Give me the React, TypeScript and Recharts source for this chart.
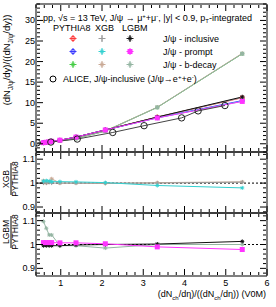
import React from "react";
import { LineChart, Line, XAxis, YAxis, ReferenceLine } from "recharts";

const FONT = "'Liberation Sans', Arial, Helvetica, sans-serif";
const W = 276;
const H = 307;
const LEFT = 36;
const RIGHT = 267;

// multiplicity classes (V0M), shared by all model curves
const multX = [0.58, 0.65, 0.72, 0.78, 0.98, 1.37, 2.08, 3.34, 5.4];

// top panel: self-normalised J/psi yields
const pythiaIncl = [0.27, 0.37, 0.47, 0.6, 0.86, 1.62, 3.35, 6.5, 11.2];
const pythiaPrompt = [0.27, 0.37, 0.47, 0.6, 0.86, 1.62, 3.35, 6.35, 10.5];
const pythiaBdecay = [0.17, 0.25, 0.34, 0.44, 0.7, 1.3, 3.1, 8.85, 21.9];
const xgbIncl = [0.27, 0.37, 0.47, 0.6, 0.86, 1.62, 3.35, 6.5, 11.25];
const xgbPrompt = [0.27, 0.37, 0.47, 0.6, 0.86, 1.63, 3.35, 6.3, 10.35];
const xgbBdecay = [0.17, 0.25, 0.35, 0.44, 0.7, 1.3, 3.1, 8.9, 22.0];
const lgbmIncl = [0.27, 0.37, 0.47, 0.6, 0.86, 1.62, 3.36, 6.5, 11.4];
const lgbmPrompt = [0.27, 0.37, 0.47, 0.6, 0.87, 1.63, 3.36, 6.28, 10.3];
const lgbmBdecay = [0.19, 0.27, 0.35, 0.46, 0.7, 1.29, 3.05, 8.85, 21.9];

// ALICE measurement
const aliceX = [0.43, 0.76, 1.4, 2.26, 3.02, 3.93, 4.33, 4.98];
const aliceY = [0.25, 0.42, 1.15, 2.75, 4.4, 6.3, 8.0, 9.3];

// middle panel: XGB / PYTHIA8
const xgbInclRatio = [1.0, 1.0, 1.003, 1.0, 1.0, 1.0, 1.0, 1.0, 1.004];
const xgbPromptRatio = [1.008, 1.01, 1.008, 1.006, 1.006, 1.005, 1.002, 0.99, 0.98];
const xgbBdecayRatio = [1.01, 1.0, 1.005, 1.018, 1.0, 1.0, 0.998, 1.002, 1.005];

// bottom panel: LGBM / PYTHIA8
const lgbmInclRatio = [0.995, 0.995, 0.995, 0.995, 0.995, 0.998, 1.0, 1.002, 1.013];
const lgbmPromptRatio = [1.008, 1.008, 1.008, 1.008, 1.007, 1.007, 1.003, 0.99, 0.979];
const lgbmBdecayRatio = [1.097, 1.068, 1.04, 1.04, 0.995, 0.995, 0.985, 1.0, 1.0];

// axis ticks
const xMajor = [1, 2, 3, 4, 5, 6];
const topYMajor = [0, 5, 10, 15, 20, 25, 30];
const ratioYMajor = [0.9, 1, 1.1];

function steps(from: number, to: number, step: number) {
  const out: number[] = [];
  for (let v = from; v <= to + 1e-9; v += step) out.push(Math.round(v * 1000) / 1000);
  return out;
}
const xTicks = steps(0.4, 6, 0.2);
const topYTicks = steps(-2, 34, 1);
const ratioYTicks = steps(0.88, 1.12, 0.02);

const topData = multX.map((x, i) => ({
  x,
  pyI: pythiaIncl[i],
  pyP: pythiaPrompt[i],
  pyB: pythiaBdecay[i],
  xgI: xgbIncl[i],
  xgP: xgbPrompt[i],
  xgB: xgbBdecay[i],
  lgI: lgbmIncl[i],
  lgP: lgbmPrompt[i],
  lgB: lgbmBdecay[i],
}));
const aliceData = aliceX.map((x, i) => ({ x, alice: aliceY[i] }));
const midData = multX.map((x, i) => ({
  x,
  inc: xgbInclRatio[i],
  pro: xgbPromptRatio[i],
  bd: xgbBdecayRatio[i],
}));
const botData = multX.map((x, i) => ({
  x,
  inc: lgbmInclRatio[i],
  pro: lgbmPromptRatio[i],
  bd: lgbmBdecayRatio[i],
}));

const C = {
  red: "#ff3b3b",
  blue: "#3b3bff",
  green: "#44cc44",
  grey: "#9a9a9a",
  cyan: "#33d0d0",
  tan: "#c9a995",
  black: "#111111",
  magenta: "#ff33ff",
  sage: "#94b5a2",
};

const isMajor = (v: number, majors: number[]) => majors.some((m) => Math.abs(m - v) < 1e-6);

// markers
const square = (color: string, s = 2.5) => (p: any) =>
  p.cx == null ? null : (
    <rect key={`${p.dataKey}-${p.index}`} x={p.cx - s} y={p.cy - s} width={2 * s} height={2 * s} fill={color} />
  );
const openCircle = (color: string, r = 3) => (p: any) =>
  p.cx == null ? null : (
    <circle key={`${p.dataKey}-${p.index}`} cx={p.cx} cy={p.cy} r={r} fill="none" stroke={color} strokeWidth={1} />
  );
const plus = (color: string, s = 2.5) => (p: any) =>
  p.cx == null ? null : (
    <g key={`${p.dataKey}-${p.index}`} stroke={color} strokeWidth={1}>
      <line x1={p.cx - s} x2={p.cx + s} y1={p.cy} y2={p.cy} />
      <line x1={p.cx} x2={p.cx} y1={p.cy - s} y2={p.cy + s} />
    </g>
  );
const star = (color: string, s = 2.2) => (p: any) =>
  p.cx == null ? null : (
    <g key={`${p.dataKey}-${p.index}`} stroke={color} strokeWidth={1}>
      <line x1={p.cx - s} x2={p.cx + s} y1={p.cy} y2={p.cy} />
      <line x1={p.cx} x2={p.cx} y1={p.cy - s} y2={p.cy + s} />
      <line x1={p.cx - s * 0.7} x2={p.cx + s * 0.7} y1={p.cy - s * 0.7} y2={p.cy + s * 0.7} />
      <line x1={p.cx - s * 0.7} x2={p.cx + s * 0.7} y1={p.cy + s * 0.7} y2={p.cy - s * 0.7} />
    </g>
  );

// inward ROOT-style ticks
function xTick(side: "bottom" | "top", labels: boolean) {
  return (p: any) => {
    const v = p.payload.value;
    const major = isMajor(v, xMajor);
    const len = major ? 6 : 3;
    const dir = side === "bottom" ? -1 : 1;
    const y0 = side === "bottom" ? p.y - 1 : p.y + 1;
    return (
      <g key={`x${side}-${v}`}>
        <line x1={p.x} x2={p.x} y1={y0} y2={y0 + dir * len} stroke="#000" strokeWidth={1} />
        {labels && major && (
          <text x={p.x} y={y0 + 11} textAnchor="middle" fontSize={9} fontFamily={FONT} fill="#000">
            {v}
          </text>
        )}
      </g>
    );
  };
}
function yTick(side: "left" | "right", majors: number[], labels: boolean) {
  return (p: any) => {
    const v = p.payload.value;
    const major = isMajor(v, majors);
    const len = major ? 6 : 3;
    const dir = side === "left" ? 1 : -1;
    const x0 = side === "left" ? p.x + 1 : p.x - 1;
    return (
      <g key={`y${side}-${v}`}>
        <line x1={x0} x2={x0 + dir * len} y1={p.y} y2={p.y} stroke="#000" strokeWidth={1} />
        {labels && major && (
          <text x={x0 - 2} y={p.y + 3} textAnchor="end" fontSize={9} fontFamily={FONT} fill="#000">
            {v}
          </text>
        )}
      </g>
    );
  };
}

function Panel(props: {
  top: number;
  bottom: number;
  data: any[];
  yDomain: [number, number];
  yTicks: number[];
  yMajor: number[];
  xLabels: boolean;
  children: React.ReactNode;
}) {
  // axes are 1px thick, so margins are shrunk by one to keep the frame in place
  return (
    <div style={{ position: "absolute", left: 0, top: 0 }}>
      <LineChart
        width={W}
        height={H}
        data={props.data}
        margin={{ top: props.top - 1, bottom: H - props.bottom - 1, left: LEFT - 1, right: W - RIGHT - 1 }}
      >
        <XAxis
          xAxisId="b"
          dataKey="x"
          type="number"
          domain={[0.4, 6]}
          allowDataOverflow
          ticks={xTicks}
          interval={0}
          height={1}
          tickSize={0}
          tickMargin={0}
          tickLine={false}
          tick={xTick("bottom", props.xLabels)}
          axisLine={{ stroke: "#000" }}
        />
        <XAxis
          xAxisId="t"
          orientation="top"
          dataKey="x"
          type="number"
          domain={[0.4, 6]}
          allowDataOverflow
          ticks={xTicks}
          interval={0}
          height={1}
          tickSize={0}
          tickMargin={0}
          tickLine={false}
          tick={xTick("top", false)}
          axisLine={{ stroke: "#000" }}
        />
        <YAxis
          yAxisId="l"
          type="number"
          domain={props.yDomain}
          allowDataOverflow
          ticks={props.yTicks}
          interval={0}
          width={1}
          tickSize={0}
          tickMargin={0}
          tickLine={false}
          tick={yTick("left", props.yMajor, true)}
          axisLine={{ stroke: "#000" }}
        />
        <YAxis
          yAxisId="r"
          orientation="right"
          type="number"
          domain={props.yDomain}
          allowDataOverflow
          ticks={props.yTicks}
          interval={0}
          width={1}
          tickSize={0}
          tickMargin={0}
          tickLine={false}
          tick={yTick("right", props.yMajor, false)}
          axisLine={{ stroke: "#000" }}
        />
        {props.children}
      </LineChart>
    </div>
  );
}

const lineProps = {
  xAxisId: "b",
  yAxisId: "l",
  type: "linear" as const,
  strokeWidth: 1,
  isAnimationActive: false,
  activeDot: false,
};

function Legend() {
  const rows = [
    { y: 38.5, py: openCircle(C.red, 2.2), xg: plus(C.grey, 3), lg: star(C.black, 2.6), label: "J/ψ - inclusive", pc: C.red, xc: C.grey, lc: C.black },
    { y: 51.5, py: openCircle(C.blue, 2.2), xg: star(C.cyan, 2.6), lg: square(C.magenta, 2.5), label: "J/ψ - prompt", pc: C.blue, xc: C.cyan, lc: C.magenta },
    { y: 64.5, py: star(C.green, 2.6), xg: star(C.tan, 2.6), lg: star(C.sage, 2.6), label: "J/ψ - b-decay", pc: C.green, xc: C.tan, lc: C.sage },
  ];
  const bar = (cx: number, cy: number, color: string) => (
    <g stroke={color} strokeWidth={1}>
      <line x1={cx - 3.5} x2={cx + 3.5} y1={cy} y2={cy} />
      <line x1={cx} x2={cx} y1={cy - 3.5} y2={cy + 3.5} />
    </g>
  );
  return (
    <svg width={W} height={H} style={{ position: "absolute", left: 0, top: 0, pointerEvents: "none" }} fontFamily={FONT}>
      <text x={43} y={21} fontSize={9} fill="#000">
        pp, √s = 13 TeV, J/ψ → μ<tspan dy={-3} fontSize={6}>+</tspan>
        <tspan dy={3}>+μ</tspan>
        <tspan dy={-3} fontSize={6}>-</tspan>
        <tspan dy={3}>, |y| &lt; 0.9, p</tspan>
        <tspan dy={2} fontSize={6}>T</tspan>
        <tspan dy={-2}>-integrated</tspan>
      </text>
      <text x={53} y={31} fontSize={9} fill="#000">PYTHIA8</text>
      <text x={95} y={31} fontSize={9} fill="#000">XGB</text>
      <text x={122} y={31} fontSize={9} fill="#000">LGBM</text>
      {rows.map((r, i) => (
        <g key={i}>
          {bar(73, r.y, r.pc)}
          {r.py({ cx: 73, cy: r.y, index: 0, dataKey: "p" })}
          {bar(102, r.y, r.xc)}
          {r.xg({ cx: 102, cy: r.y, index: 0, dataKey: "x" })}
          {bar(130, r.y, r.lc)}
          {r.lg({ cx: 130, cy: r.y, index: 0, dataKey: "l" })}
          <text x={163} y={r.y + 3.5} fontSize={9} fill="#000">{r.label}</text>
        </g>
      ))}
      <circle cx={53} cy={79} r={3} fill="none" stroke="#000" />
      <text x={63} y={82} fontSize={9} fill="#000">
        ALICE, J/ψ-inclusive (J/ψ→e<tspan dy={-3} fontSize={6}>+</tspan>
        <tspan dy={3}>+e</tspan>
        <tspan dy={-3} fontSize={6}>-</tspan>
        <tspan dy={3}>)</tspan>
      </text>

      {/* axis titles */}
      <text transform="translate(10,60) rotate(-90)" textAnchor="middle" fontSize={9.5} fill="#000">
        (dN<tspan dy={3} fontSize={6.5}>J/ψ</tspan>
        <tspan dy={-3}>/dy)/((dN</tspan>
        <tspan dy={3} fontSize={6.5}>J/ψ</tspan>
        <tspan dy={-3}>/dy))</tspan>
      </text>
      <g transform="translate(11,179) rotate(-90)">
        <text x={0} y={-2} textAnchor="middle" fontSize={8.5} fill="#000">XGB</text>
        <line x1={-16} x2={16} y1={0} y2={0} stroke="#000" />
        <text x={0} y={7} textAnchor="middle" fontSize={8.5} fill="#000">PYTHIA8</text>
      </g>
      <g transform="translate(11,232) rotate(-90)">
        <text x={0} y={-2} textAnchor="middle" fontSize={8.5} fill="#000">LGBM</text>
        <line x1={-16} x2={16} y1={0} y2={0} stroke="#000" />
        <text x={0} y={7} textAnchor="middle" fontSize={8.5} fill="#000">PYTHIA8</text>
      </g>
      <text x={266} y={297} textAnchor="end" fontSize={9} fill="#000">
        (dN<tspan dy={3} fontSize={6}>ch</tspan>
        <tspan dy={-3}>/dη)/((dN</tspan>
        <tspan dy={3} fontSize={6}>ch</tspan>
        <tspan dy={-3}>/dη)) (V0M)</tspan>
      </text>
    </svg>
  );
}

export default function App() {
  return (
    <div style={{ position: "fixed", left: 0, top: 0, width: W, height: H, background: "#fff", fontFamily: FONT }}>
      <Panel top={4} bottom={152} data={topData} yDomain={[-2, 34]} yTicks={topYTicks} yMajor={topYMajor} xLabels={false}>
        <Line {...lineProps} dataKey="pyI" stroke={C.red} dot={openCircle(C.red, 2)} />
        <Line {...lineProps} dataKey="pyP" stroke={C.blue} dot={openCircle(C.blue, 2)} />
        <Line {...lineProps} dataKey="pyB" stroke={C.green} dot={star(C.green, 2)} />
        <Line {...lineProps} dataKey="xgI" stroke={C.grey} dot={plus(C.grey, 2)} />
        <Line {...lineProps} dataKey="xgP" stroke={C.cyan} dot={star(C.cyan, 2)} />
        <Line {...lineProps} dataKey="xgB" stroke={C.tan} dot={star(C.tan, 2)} />
        <Line {...lineProps} dataKey="lgB" stroke={C.sage} dot={square(C.sage, 2)} />
        <Line {...lineProps} dataKey="lgI" stroke={C.black} dot={star(C.black, 2.2)} />
        <Line {...lineProps} dataKey="lgP" stroke={C.magenta} dot={square(C.magenta, 2.5)} />
        <Line {...lineProps} data={aliceData} dataKey="alice" stroke="#444" dot={openCircle("#222", 3.2)} />
      </Panel>
      <Panel top={152} bottom={213} data={midData} yDomain={[0.875, 1.13]} yTicks={ratioYTicks} yMajor={ratioYMajor} xLabels={false}>
        <ReferenceLine xAxisId="b" yAxisId="l" y={1} stroke="#000" strokeDasharray="2 2" />
        <Line {...lineProps} dataKey="bd" stroke={C.tan} dot={star(C.tan, 2)} />
        <Line {...lineProps} dataKey="inc" stroke={C.grey} dot={plus(C.grey, 2)} />
        <Line {...lineProps} dataKey="pro" stroke={C.cyan} dot={star(C.cyan, 2)} />
      </Panel>
      <Panel top={213} bottom={276} data={botData} yDomain={[0.868, 1.132]} yTicks={ratioYTicks} yMajor={ratioYMajor} xLabels={true}>
        <ReferenceLine xAxisId="b" yAxisId="l" y={1} stroke="#000" strokeDasharray="2 2" />
        <Line {...lineProps} dataKey="bd" stroke={C.sage} dot={star(C.sage, 2)} />
        <Line {...lineProps} dataKey="inc" stroke={C.black} dot={star(C.black, 2)} />
        <Line {...lineProps} dataKey="pro" stroke={C.magenta} dot={square(C.magenta, 2.5)} />
      </Panel>
      <Legend />
    </div>
  );
}
